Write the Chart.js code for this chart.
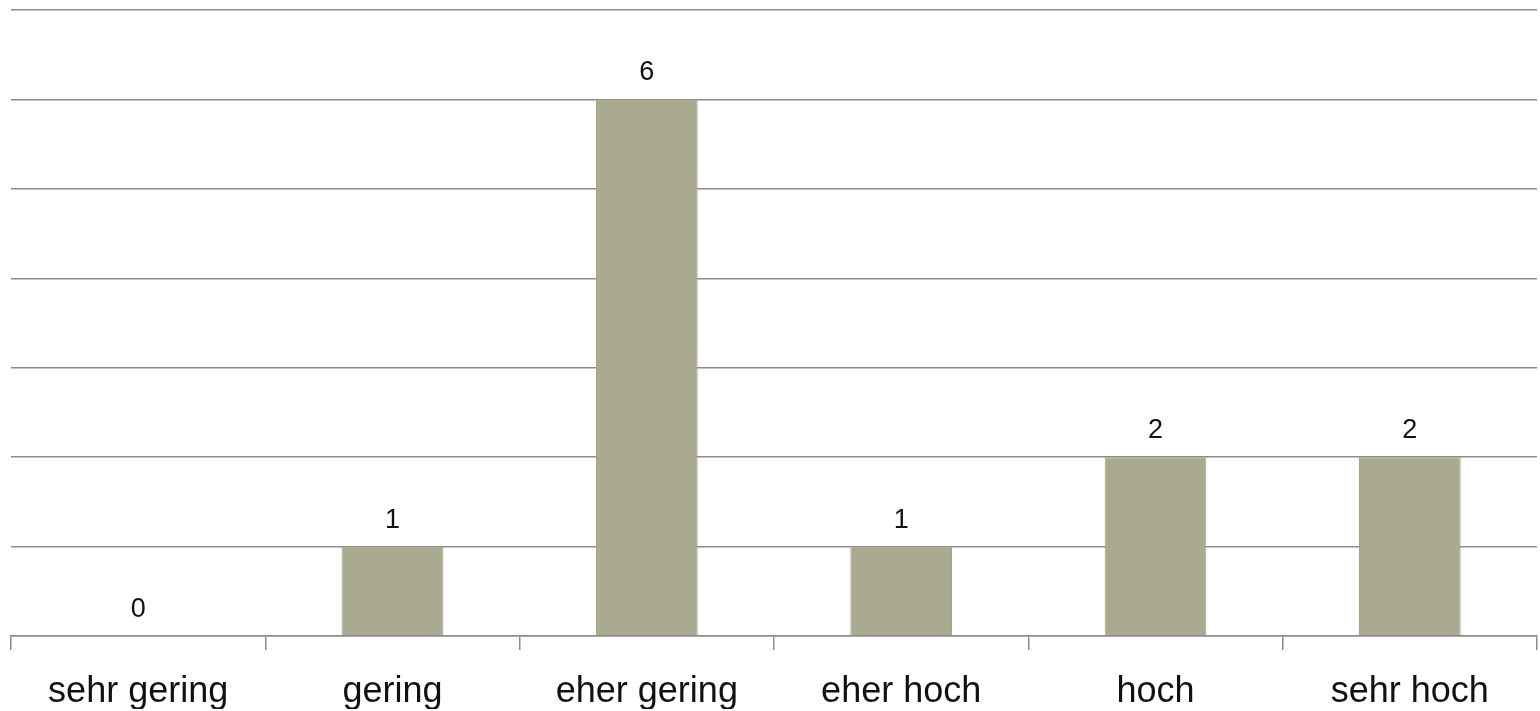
<!DOCTYPE html>
<html>
<head>
<meta charset="utf-8">
<script src="https://cdn.jsdelivr.net/npm/chart.js@4.4.1/dist/chart.umd.min.js"></script>
<style>
  html, body { margin: 0; padding: 0; background: #fff; }
  #wrap { width: 1540px; height: 711px; }
</style>
</head>
<body>
<div id="wrap"><canvas id="barChart" width="1540" height="711"></canvas></div>
<script>
const categories = ['sehr gering', 'gering', 'eher gering', 'eher hoch', 'hoch', 'sehr hoch'];
const counts = [0, 1, 6, 1, 2, 2];
const yTicks = [0, 1, 2, 3, 4, 5, 6, 7];

const FONT = '"Liberation Sans Narrow", "Liberation Sans", Arial, sans-serif';

// draws the count above each bar
const valueLabels = {
    id: 'valueLabels',
    afterDatasetsDraw(chart) {
        const ctx = chart.ctx;
        const meta = chart.getDatasetMeta(0);
        ctx.save();
        ctx.font = '27px ' + FONT;
        ctx.fillStyle = '#111';
        ctx.textAlign = 'center';
        ctx.textBaseline = 'bottom';
        meta.data.forEach((bar, i) => {
            ctx.fillText(String(counts[i]), bar.x, bar.y - 13);
        });
        ctx.restore();
    }
};

new Chart(document.getElementById('barChart').getContext('2d'), {
    type: 'bar',
    data: {
        labels: categories,
        datasets: [{
            data: counts,
            backgroundColor: '#aaaa90',
            borderColor: '#a2a288',
            borderWidth: 1,
            categoryPercentage: 1,
            barPercentage: 0.4
        }]
    },
    options: {
        responsive: false,
        animation: false,
        devicePixelRatio: 1,
        layout: { padding: { left: 11, right: 3, top: 10, bottom: 2 } },
        plugins: { legend: { display: false }, tooltip: { enabled: false } },
        scales: {
            x: {
                afterFit(axis) { axis.height = 73; },
                grid: { offset: true, drawOnChartArea: false, color: '#8c8c8c', lineWidth: 1.5, tickLength: 14 },
                border: { color: '#8c8c8c', width: 1.5 },
                ticks: { color: '#111', font: { family: FONT, size: 36 }, padding: 20 }
            },
            y: {
                min: 0,
                max: yTicks[yTicks.length - 1],
                afterBuildTicks(axis) { axis.ticks = yTicks.map(v => ({ value: v })); },
                grid: { color: '#8c8c8c', lineWidth: 1.5, drawTicks: false },
                border: { display: false },
                ticks: { display: false }
            }
        }
    },
    plugins: [valueLabels]
});
</script>
</body>
</html>
